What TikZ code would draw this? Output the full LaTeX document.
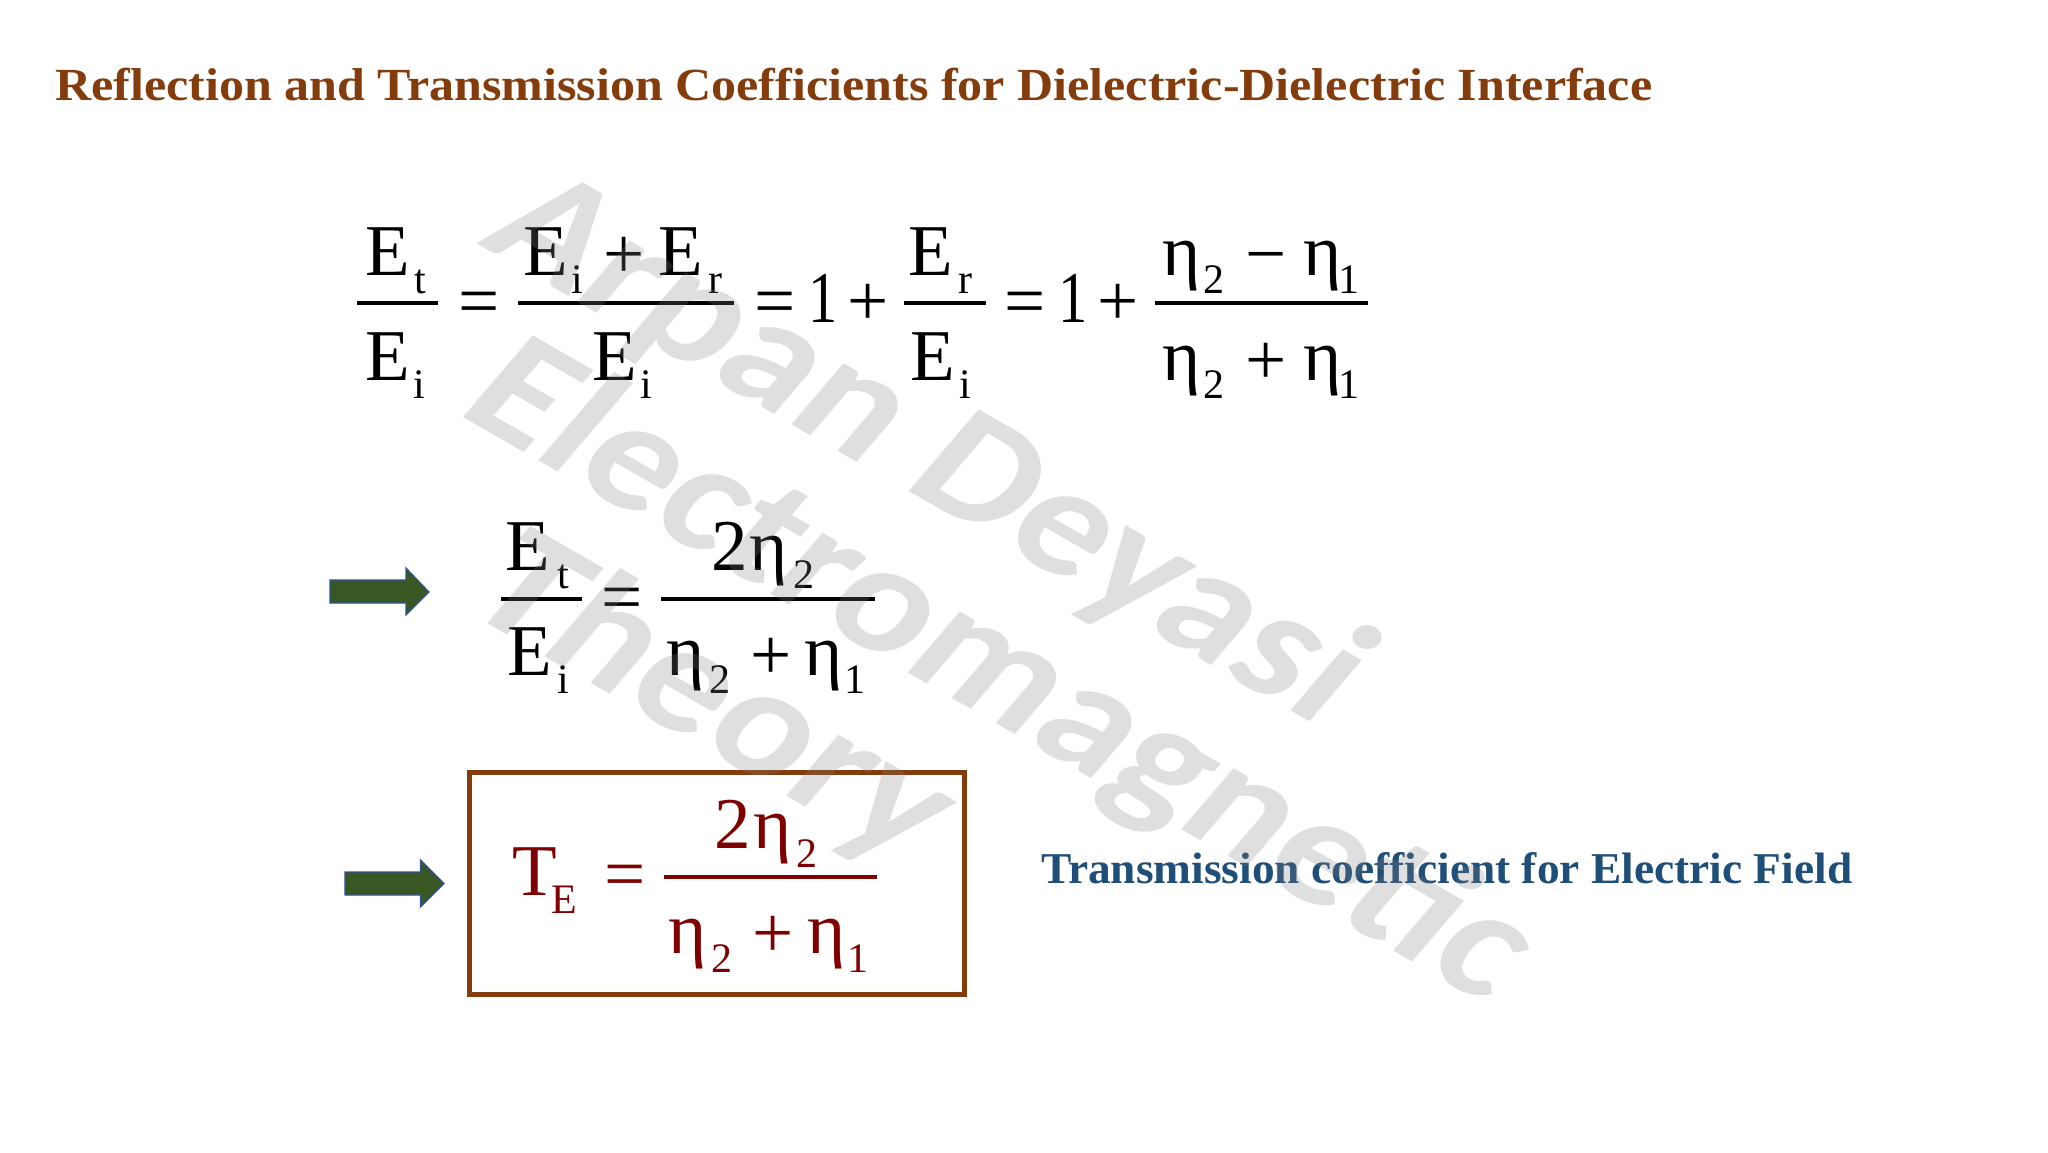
\documentclass[tikz,border=0pt]{standalone}
\usepackage{fontspec}
\usepackage{graphicx}
\setmainfont{Liberation Serif}
\newfontfamily\wmfont{Carlito}
\definecolor{titlecol}{HTML}{843C0C}
\definecolor{bluecol}{HTML}{1F4E79}
\definecolor{wmcol}{HTML}{808080}
\definecolor{redcol}{HTML}{7F0000}
\definecolor{arrowfill}{HTML}{385723}
\definecolor{arrowline}{HTML}{2F5597}
\newcounter{gl}
\tikzset{
  glyph/.style={anchor=base,inner sep=0pt,outer sep=0pt,font=\fontsize{73}{73}\selectfont},
  subg/.style={anchor=base,inner sep=0pt,outer sep=0pt,font=\fontsize{42}{42}\selectfont},
  wm/.style={anchor=center,inner sep=0pt,text=wmcol,text opacity=.25,transform shape,font=\fontsize{154}{154}\selectfont\wmfont\bfseries},
  wmframe/.style={xscale=1.22,rotate=-35},
  bar/.style={line width=3.2pt},
  greenarrow/.style={fill=arrowfill,draw=arrowline,line width=1.2pt,line join=miter},
}
\newcommand\G[4][]{\stepcounter{gl}\node[glyph,#1] (g\arabic{gl}) at (#2,#3) {#4};}
\newcommand\Sb[4][]{\stepcounter{gl}\node[subg,#1] (g\arabic{gl}) at (#2,#3) {#4};}
\newcommand\one{\scalebox{.8}[1]{1}}
\begin{document}
\begin{tikzpicture}[x=1pt,y=-1pt]
\useasboundingbox (0,0) rectangle (2048,1152);
\fill[white] (0,0) rectangle (2048,1152);
% title
\node[anchor=base west,inner sep=0pt,text=titlecol,font=\fontsize{46}{46}\selectfont\bfseries] (title) at (55,100)
  {\resizebox{1597pt}{\height}{Reflection and Transmission Coefficients for Dielectric-Dielectric Interface}};
% equation 1
\draw[bar] (357,303) -- (438,303);
\draw[bar] (518,303) -- (734,303);
\draw[bar] (904,303) -- (986,303);
\draw[bar] (1155,303) -- (1368,303);
\G{388}{275}{E}\Sb{420}{293}{t}
\G{388}{380}{E}\Sb{419}{398}{i}
\G{479}{325.5}{=}
\G{546}{275}{E}\Sb{577}{293}{i}\G{624}{278.5}{+}\G{681}{275}{E}\Sb{715}{293}{r}
\G{615}{380}{E}\Sb{646.5}{398}{i}
\G{775.5}{325.5}{=}\G{823.5}{322}{\one}\G{868}{325.5}{+}
\G{931}{275}{E}\Sb{965.5}{293}{r}
\G{933}{380}{E}\Sb{965}{398}{i}
\G{1025.5}{325.5}{=}\G{1073.5}{322}{\one}\G{1118.5}{325.5}{+}
\G{1182}{275}{η}\Sb{1214}{293}{2}\G{1266}{278.5}{−}\G{1323}{275}{η}\Sb{1349}{293}{1}
\G{1182}{380}{η}\Sb{1214}{398}{2}\G{1266}{384.5}{+}\G{1323}{380}{η}\Sb{1349}{398}{1}
% equation 2
\draw[bar] (501,599) -- (582,599);
\draw[bar] (661,599) -- (875,599);
\G{528}{570}{E}\Sb{563}{588}{t}
\G{530}{675}{E}\Sb{563}{693}{i}
\G{622}{621}{=}
\G{730}{570}{2}\G{769}{570}{η}\Sb{804}{588}{2}
\G{686}{675}{η}\Sb{720}{693}{2}\G{771}{679.5}{+}\G{824}{675}{η}\Sb{855}{693}{1}
% arrows
\draw[greenarrow] (330,580) -- (406,580) -- (406,568) -- (429,592) -- (406,615) -- (406,603) -- (330,603) -- cycle;
\draw[greenarrow] (345,872) -- (420.5,872) -- (420.5,860) -- (444,883.5) -- (420.5,907) -- (420.5,895) -- (345,895) -- cycle;
% boxed result
\draw[draw=titlecol,line width=5pt] (469.5,772) rectangle (964.5,994.5);
\draw[bar,draw=redcol] (664,877) -- (877,877);
\begin{scope}[every node/.append style={text=redcol}]
\G{535}{895}{T}\Sb{564}{913}{E}
\G{625}{898.5}{=}
\G{733}{848}{2}\G{773}{848}{η}\Sb{807}{867}{2}
\G{688}{953}{η}\Sb{722}{972}{2}\G{773}{957.5}{+}\G{827}{953}{η}\Sb{858}{972}{1}
\end{scope}
% label
\node[anchor=base west,inner sep=0pt,text=bluecol,font=\fontsize{44}{44}\selectfont\bfseries] (label) at (1041,883)
  {\resizebox{811pt}{\height}{Transmission coefficient for Electric Field}};
% watermark (semi-transparent, over everything)
\begin{scope}[shift={(927,451)},wmframe]
\node[wm] (wm1) at (0,0) {Arpan Deyasi};
\end{scope}
\begin{scope}[shift={(999,675)},wmframe]
\node[wm] (wm2) at (0,0) {Electromagnetic};
\end{scope}
\begin{scope}[shift={(712,702)},wmframe]
\node[wm] (wm3) at (0,0) {Theory};
\end{scope}
\end{tikzpicture}
\end{document}
